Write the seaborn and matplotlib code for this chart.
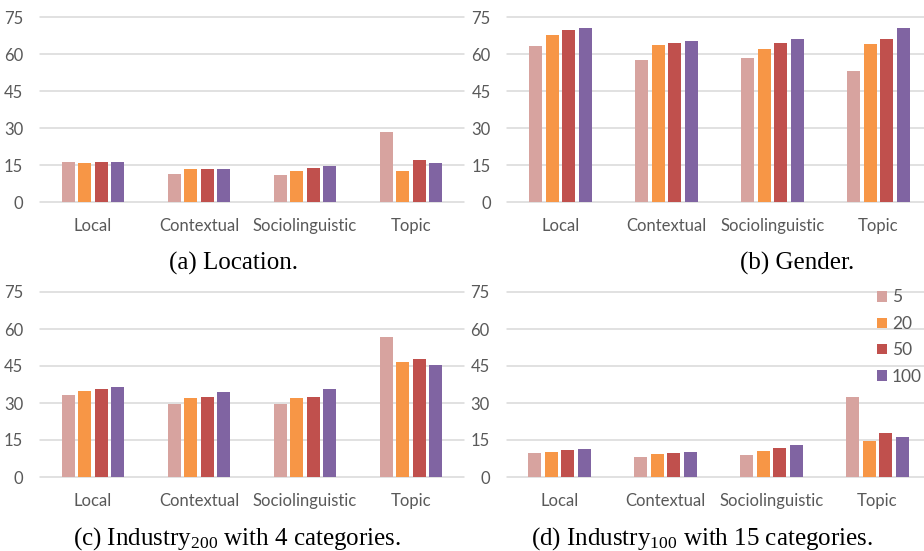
import matplotlib
matplotlib.use("Agg")
import matplotlib.pyplot as plt
import pandas as pd
import seaborn as sns

# Feature groups on the x axis and number of clusters (hue)
features = ["Local", "Contextual", "Sociolinguistic", "Topic"]
sizes = ["5", "20", "50", "100"]
size_colors = ["#D7A39F", "#F79646", "#C0504D", "#8064A2"]
yticks = [0, 15, 30, 45, 60, 75]

# Scores per cluster count (rows: 5, 20, 50, 100; columns follow `features`)
location = [
    [16.4, 11.5, 11.1, 28.4],
    [16.1, 13.5, 12.7, 12.7],
    [16.2, 13.6, 13.8, 17.3],
    [16.2, 13.6, 14.6, 16.1],
]
gender = [
    [63.5, 57.7, 58.5, 53.4],
    [68.0, 63.6, 62.2, 64.2],
    [69.9, 64.5, 64.5, 66.1],
    [70.7, 65.3, 66.4, 70.7],
]
industry200 = [
    [33.2, 29.7, 29.5, 56.8],
    [35.0, 31.9, 31.9, 46.8],
    [35.5, 32.3, 32.4, 47.7],
    [36.4, 34.3, 35.7, 45.3],
]
industry100 = [
    [9.7, 8.0, 8.9, 32.3],
    [10.3, 9.5, 10.4, 14.7],
    [10.9, 9.7, 11.9, 17.7],
    [11.2, 10.3, 12.8, 16.4],
]

captions = [
    "(a) Location.",
    "(b) Gender.",
    r"(c) Industry$\mathregular{_{200}}$ with 4 categories.",
    r"(d) Industry$\mathregular{_{100}}$ with 15 categories.",
]

sns.set_theme(style="white")
plt.rcParams["font.family"] = ["Lato", "DejaVu Sans"]
plt.rcParams["mathtext.fontset"] = "custom"
plt.rcParams["mathtext.rm"] = "Liberation Serif"


def to_long(rows):
    records = []
    for s, vals in zip(sizes, rows):
        for f, v in zip(features, vals):
            records.append({"feature": f, "size": s, "value": v})
    return pd.DataFrame(records)


fig = plt.figure(figsize=(9.24, 5.51), dpi=100)

W, H = 924, 551
panels = [
    (location, 40.0, 17.3),
    (gender, 507.5, 17.3),
    (industry200, 40.0, 292.0),
    (industry100, 506.5, 292.0),
]
tick_color = "#595959"
grid_color = "#D9D9D9"

axes = []
for i, (rows, x0, ytop) in enumerate(panels):
    ax_w, ax_h = 424.0, 185.0
    ax = fig.add_axes([x0 / W, 1 - (ytop + ax_h) / H, ax_w / W, ax_h / H])
    df = to_long(rows)
    sns.barplot(
        data=df, x="feature", y="value", hue="size",
        order=features, hue_order=sizes, palette=size_colors,
        width=0.625, gap=0.23, linewidth=0, saturation=1,
        legend=(i == 3), ax=ax,
    )
    ax.set_xlim(-0.5, 3.5)
    ax.set_ylim(0, 75)
    ax.set_yticks(yticks)
    ax.set_xlabel("")
    ax.set_ylabel("")
    for sp in ax.spines.values():
        sp.set_visible(False)
    ax.set_axisbelow(True)
    ax.yaxis.grid(True, color=grid_color, linewidth=1.1)
    for gl in ax.get_ygridlines():
        gl.set_clip_on(False)
    ax.tick_params(axis="y", length=0, pad=12.0, labelsize=12, labelcolor=tick_color)
    ax.tick_params(axis="x", length=0, pad=11.5, labelsize=12, labelcolor=tick_color)
    axes.append(ax)

# Legend for the cluster counts, placed in the last panel
ax = axes[3]
handles, labels = ax.get_legend_handles_labels()
ax.get_legend().remove()
leg = fig.legend(
    handles, labels, loc="upper left",
    bbox_to_anchor=(877.0 / W, 1 - 289.5 / H), bbox_transform=fig.transFigure,
    frameon=False, fontsize=12.5, handlelength=0.55, handleheight=0.55,
    handletextpad=0.3, labelspacing=0.6, borderpad=0, borderaxespad=0,
)
for t in leg.get_texts():
    t.set_color(tick_color)

# Sub-figure captions
cap_pos = [(233.7, 270.0), (797.5, 270.0), (237.5, 545.0), (701.7, 545.0)]
for text, (cx, cy) in zip(captions, cap_pos):
    fig.text(cx / W, 1 - cy / H, text, ha="center", va="baseline",
             family="Liberation Serif", fontsize=18, color="black")

fig.savefig("out.png", dpi=100)
